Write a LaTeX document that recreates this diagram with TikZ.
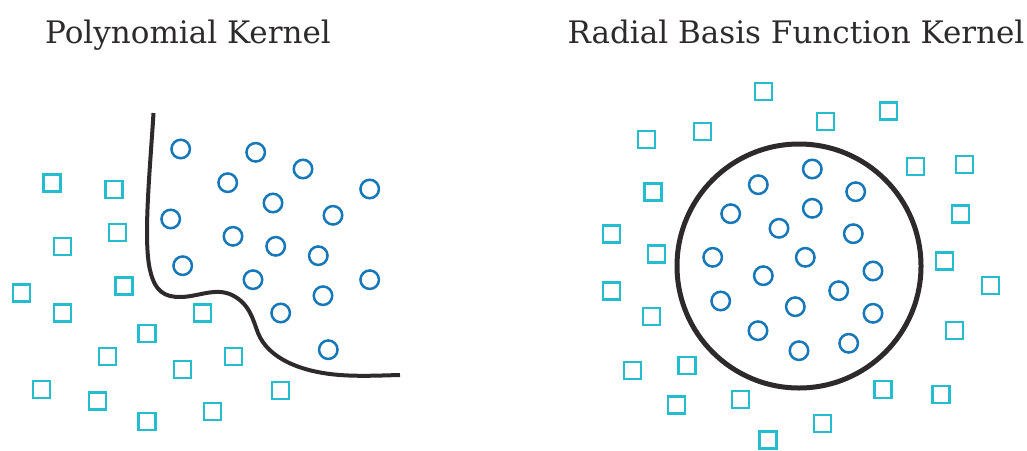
\documentclass[tikz,border=0pt]{standalone}
\usepackage{fontspec}
\setmainfont{DejaVu Serif}
\definecolor{dotblue}{HTML}{1678B8}
\definecolor{sqcyan}{HTML}{24BDCF}
\definecolor{curvedark}{HTML}{2E2A2B}
\begin{document}
\begin{tikzpicture}[x=1pt,y=-1pt,
  dot/.style={circle,draw=dotblue,line width=2.5pt,minimum size=18.5pt,inner sep=0pt},
  sq/.style={rectangle,draw=sqcyan,line width=2.4pt,minimum size=17pt,inner sep=0pt},
  boundary/.style={draw=curvedark,line width=4pt},
  title/.style={anchor=base,font=\fontsize{31}{36}\selectfont,text=curvedark}]
\useasboundingbox (0,0) rectangle (1027,450);
\node[title] (t1) at (188,43) {Polynomial Kernel};
\node[title] (t2) at (796,43) {Radial Basis Function Kernel};
% left panel circles
\foreach \x/\y [count=\i] in {180.7/149,255.7/152.3,303/169,227.7/182.7,369.7/189,273/203,333/215.3,170.7/219,233/236.3,275.7/246.3,318.3/255.7,182.7/265.7,253/279.7,369.7/279.7,323/295.7,280.7/313,328.3/349.7}
  \node[dot] (pc\i) at (\x,\y) {};
% left panel squares
\foreach \x/\y [count=\i] in {52/183,114/189.3,62.3/246.3,117.3/232.3,21.3/293,124/286,62.3/313,202.7/313,147/333.3,107.3/356.3,233.3/356.3,182.3/369.3,41.7/389.7,97.3/401,280.7/390.7,212.7/411.3,147/421.7}
  \node[sq] (ps\i) at (\x,\y) {};
% polynomial boundary
\coordinate (pa) at (153.5,113);
\coordinate (pb) at (400,375);
\draw[boundary] (pa) .. controls (150,170) and (143,240) .. (150,270)
  .. controls (155,292) and (165,297) .. (180,297)
  .. controls (198,297) and (215,287) .. (232,295)
  .. controls (250,304) and (253,320) .. (258,333)
  .. controls (268,358) and (300,372) .. (340,375)
  .. controls (360,376.5) and (380,375.5) .. (pb);
% right panel
\node[circle,draw=curvedark,line width=5pt,minimum size=244pt,inner sep=0pt] (rbf) at (799,266) {};
\foreach \x/\y [count=\i] in {812.3/169,758.3/184.7,855.7/191.7,730.7/213.7,812.3/208.3,779/228.3,853.3/233.7,712.7/257.3,805.3/257.3,763.3/275.7,873/271,838.7/290.7,720.7/301,795.3/306.7,873/313.3,758/330.7,848.7/343.3,799/350.7}
  \node[dot] (rc\i) at (\x,\y) {};
\foreach \x/\y [count=\i] in {763.3/91.7,825.7/121.3,888.3/111,646.7/139.3,702.7/131.3,915.7/166.7,964.7/164.3,653/192,960.3/214,611.3/234,656.7/254,944.3/261,990.3/285.7,611.3/291,651.3/316.7,954.7/330.7,632.7/370.7,687/365.7,883/389.7,941/394.7,676.7/405,740.7/399.7,822.3/423.3,768/440}
  \node[sq] (rs\i) at (\x,\y) {};
\end{tikzpicture}
\end{document}
